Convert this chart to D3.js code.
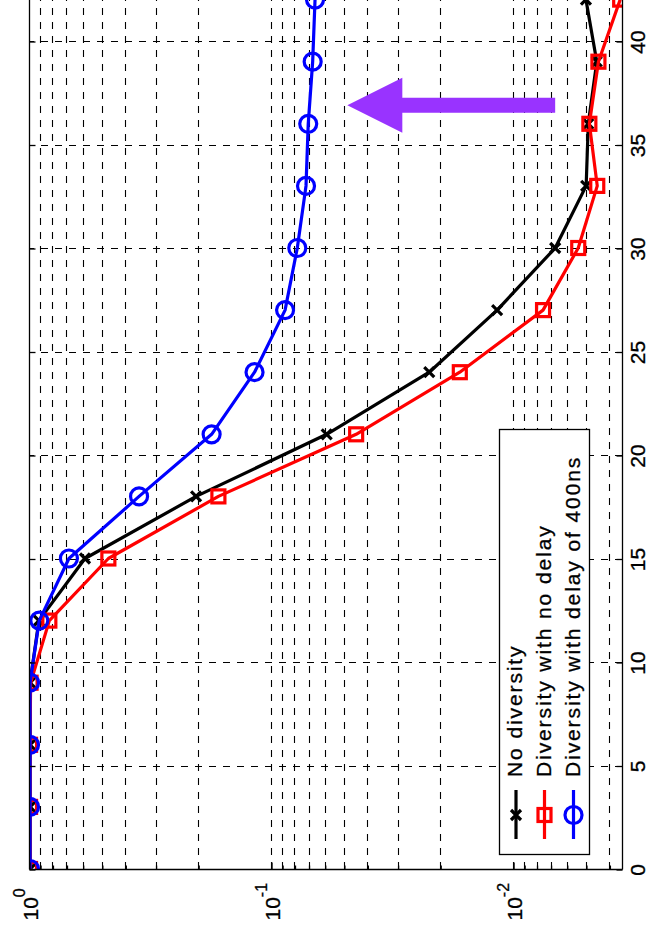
<!DOCTYPE html>
<html>
<head>
<meta charset="utf-8">
<script src="https://cdn.jsdelivr.net/npm/d3@7"></script>
<style>
  body { margin: 0; background: #fff; }
  text { font-family: "Liberation Sans", Arial, Helvetica, sans-serif; stroke: #000; stroke-width: 0.3px; }
</style>
</head>
<body>
<svg id="chart" width="653" height="936"></svg>
<script>
// chart is a BER vs SNR plot, shown turned 90 degrees (SNR runs up, BER runs right)

var snr = [0, 3, 6, 9, 12, 15, 18, 21, 24, 27, 30, 33, 36, 39, 42];
var berNoDiversity = [0.99, 0.99, 0.99, 0.99, 0.91, 0.587, 0.204, 0.0589, 0.0222, 0.01164, 0.0067, 0.00499, 0.00489, 0.00451, 0.0050];
var berNoDelay     = [0.99, 0.99, 0.99, 0.985, 0.824, 0.470, 0.165, 0.0445, 0.0166, 0.00752, 0.00538, 0.00449, 0.00484, 0.00444, 0.00361];
var berDelay400    = [0.99, 0.99, 0.99, 0.99, 0.907, 0.684, 0.351, 0.176, 0.117, 0.0875, 0.0779, 0.0717, 0.0702, 0.0673, 0.0658];

var seriesNames = ["No diversity", "Diversity with no delay", "Diversity with delay of 400ns"];
var snrTicks = [0, 5, 10, 15, 20, 25, 30, 35, 40];
var berDecades = [1, 0.1, 0.01];
var berDecadeExp = ["0", "-1", "-2"];

// purple arrow annotation (data coords)
var arrowSnr = 36.9;
var arrowFromBer = 0.0067;
var arrowToBer = 0.0484;

var svg = d3.select("#chart");
svg.append("rect").attr("width", 653).attr("height", 936).attr("fill", "#fff");

var left = 29, right = 622, bottom = 869;
var pxPerDb = 20.7;

var x = d3.scaleLog().domain([1, Math.pow(10, -2.45)]).range([left, right]);
var y = d3.scaleLinear().domain([0, 45]).range([bottom, bottom - 45 * pxPerDb]);
var plotTop = y(45);

function crisp(v) { return Math.round(v) + 0.5; }

// clip for the plot area
svg.append("defs").append("clipPath").attr("id", "plotclip")
  .append("rect").attr("x", left).attr("y", plotTop)
  .attr("width", right - left).attr("height", bottom - plotTop);

// grid
var allBerTicks = x.ticks();
var isDecade = function(v) { return Math.abs(Math.log10(v) - Math.round(Math.log10(v))) < 1e-6; };
var minorBer = allBerTicks.filter(function(v) { return !isDecade(v); });

var grid = svg.append("g").attr("class", "grid")
  .attr("stroke", "#000").attr("stroke-width", 1.1).attr("stroke-dasharray", "7,7");

grid.selectAll("line.v").data(allBerTicks.filter(function(v) { return v < 0.999; }))
  .enter().append("line").attr("class", "v")
  .attr("x1", function(d) { return crisp(x(d)); })
  .attr("x2", function(d) { return crisp(x(d)); })
  .attr("y1", bottom).attr("y2", plotTop);

grid.selectAll("line.h").data(snrTicks.filter(function(v) { return v > 0; }))
  .enter().append("line").attr("class", "h")
  .attr("y1", function(d) { return crisp(y(d)); })
  .attr("y2", function(d) { return crisp(y(d)); })
  .attr("x1", right).attr("x2", left);

// series
var series = [
  { name: seriesNames[0], values: berNoDiversity, color: "#000000", marker: "x" },
  { name: seriesNames[1], values: berNoDelay, color: "#ff0000", marker: "square" },
  { name: seriesNames[2], values: berDelay400, color: "#0000ff", marker: "circle" }
];

var line = d3.line()
  .x(function(d) { return x(d.ber); })
  .y(function(d) { return y(d.snr); });

function drawMarker(g, type, color) {
  if (type === "x") {
    g.append("path").attr("d", "M-5,-5L5,5M-5,5L5,-5")
      .attr("stroke", color).attr("stroke-width", 3.2).attr("fill", "none");
  } else if (type === "square") {
    g.append("rect").attr("x", -6.5).attr("y", -6.5).attr("width", 13).attr("height", 13)
      .attr("stroke", color).attr("stroke-width", 3.2).attr("fill", "none");
  } else {
    g.append("circle").attr("r", 8.5)
      .attr("stroke", color).attr("stroke-width", 3.2).attr("fill", "none");
  }
}

var plot = svg.append("g").attr("clip-path", "url(#plotclip)");

series.forEach(function(s) {
  var pts = snr.map(function(v, i) { return { snr: v, ber: s.values[i] }; });
  plot.append("path").datum(pts)
    .attr("d", line)
    .attr("fill", "none")
    .attr("stroke", s.color)
    .attr("stroke-width", 3.2)
    .attr("stroke-linejoin", "round");
  plot.selectAll(null).data(pts).enter().append("g")
    .attr("transform", function(d) { return "translate(" + x(d.ber) + "," + y(d.snr) + ")"; })
    .each(function() { drawMarker(d3.select(this), s.marker, s.color); });
});

// frame
svg.append("g").attr("stroke", "#000").attr("stroke-width", 1.3).attr("fill", "none")
  .selectAll("line").data([
    [left, plotTop, left, bottom], [left, bottom, right, bottom], [right, bottom, right, plotTop]
  ]).enter().append("line")
  .attr("x1", function(d) { return crisp(d[0]); })
  .attr("y1", function(d) { return d[1] === bottom ? crisp(d[1]) : d[1]; })
  .attr("x2", function(d) { return crisp(d[2]); })
  .attr("y2", function(d) { return d[3] === bottom ? crisp(d[3]) : d[3]; });

// SNR axis (right side, labels outside, ticks inward)
var snrAxis = svg.append("g")
  .attr("transform", "translate(" + crisp(right) + ",0.5)")
  .call(d3.axisRight(y).tickValues(snrTicks).tickSizeInner(-6).tickSizeOuter(0));
snrAxis.select(".domain").remove();
snrAxis.attr("font-size", 21).attr("font-family", null);
snrAxis.selectAll("line").attr("stroke-width", 1.3);
snrAxis.selectAll("text")
  .attr("x", 0).attr("dy", 0)
  .attr("text-anchor", "middle")
  .attr("transform", "translate(22,0) rotate(-90)");

// mirrored ticks on the opposite side
var snrAxisL = svg.append("g")
  .attr("transform", "translate(" + crisp(left) + ",0.5)")
  .call(d3.axisLeft(y).tickValues(snrTicks).tickSizeInner(-6).tickSizeOuter(0).tickFormat(""));
snrAxisL.select(".domain").remove();
snrAxisL.selectAll("line").attr("stroke-width", 1.3);

// BER axis (bottom)
var berMinorAxis = svg.append("g")
  .attr("transform", "translate(0.5," + crisp(bottom) + ")")
  .call(d3.axisBottom(x).tickValues(minorBer).tickSizeInner(-4).tickSizeOuter(0).tickFormat(""));
berMinorAxis.select(".domain").remove();
berMinorAxis.selectAll("line").attr("stroke-width", 1.3);

var berAxis = svg.append("g")
  .attr("transform", "translate(0.5," + crisp(bottom) + ")")
  .call(d3.axisBottom(x).tickValues(berDecades).tickSizeInner(-7).tickSizeOuter(0).tickFormat(""));
berAxis.select(".domain").remove();
berAxis.selectAll("line").attr("stroke-width", 1.3);
berAxis.attr("font-family", null);
berAxis.selectAll("text").each(function(d, i) {
  var t = d3.select(this)
    .attr("x", 0).attr("y", 0).attr("dy", 0)
    .attr("text-anchor", "start")
    .attr("transform", "translate(8,51) rotate(-90)")
    .attr("fill", "#000");
  t.append("tspan").attr("font-size", 21).text("10");
  t.append("tspan").attr("font-size", 16).attr("dy", -13).text(berDecadeExp[i]);
});

// legend
var legend = svg.append("g").attr("class", "legend");
legend.append("rect")
  .attr("x", 499.5).attr("y", 429.5).attr("width", 90).attr("height", 425)
  .attr("fill", "#fff").attr("stroke", "#000").attr("stroke-width", 1.3);

var legendX = [516, 544.5, 573.5];
series.forEach(function(s, i) {
  var g = legend.append("g");
  g.append("line")
    .attr("x1", legendX[i]).attr("x2", legendX[i])
    .attr("y1", 790).attr("y2", 839)
    .attr("stroke", s.color).attr("stroke-width", 3.2);
  var m = g.append("g").attr("transform", "translate(" + legendX[i] + ",815)");
  drawMarker(m, s.marker, s.color);
  g.append("text")
    .attr("transform", "translate(" + (legendX[i] + 6) + ",777) rotate(-90)")
    .attr("font-size", 21)
    .attr("letter-spacing", "1.9px")
    .attr("fill", "#000")
    .text(s.name);
});

// arrow
var ax0 = x(arrowFromBer), ax1 = x(arrowToBer), ay = y(arrowSnr);
var headLen = 55, headHalf = 27.5, shaftHalf = 7.5;
var arrowPts = [
  [ax1, ay],
  [ax1 + headLen, ay - headHalf],
  [ax1 + headLen, ay - shaftHalf],
  [ax0, ay - shaftHalf],
  [ax0, ay + shaftHalf],
  [ax1 + headLen, ay + shaftHalf],
  [ax1 + headLen, ay + headHalf]
];
svg.append("path")
  .attr("d", d3.line()(arrowPts) + "Z")
  .attr("fill", "#9933ff");
</script>
</body>
</html>
